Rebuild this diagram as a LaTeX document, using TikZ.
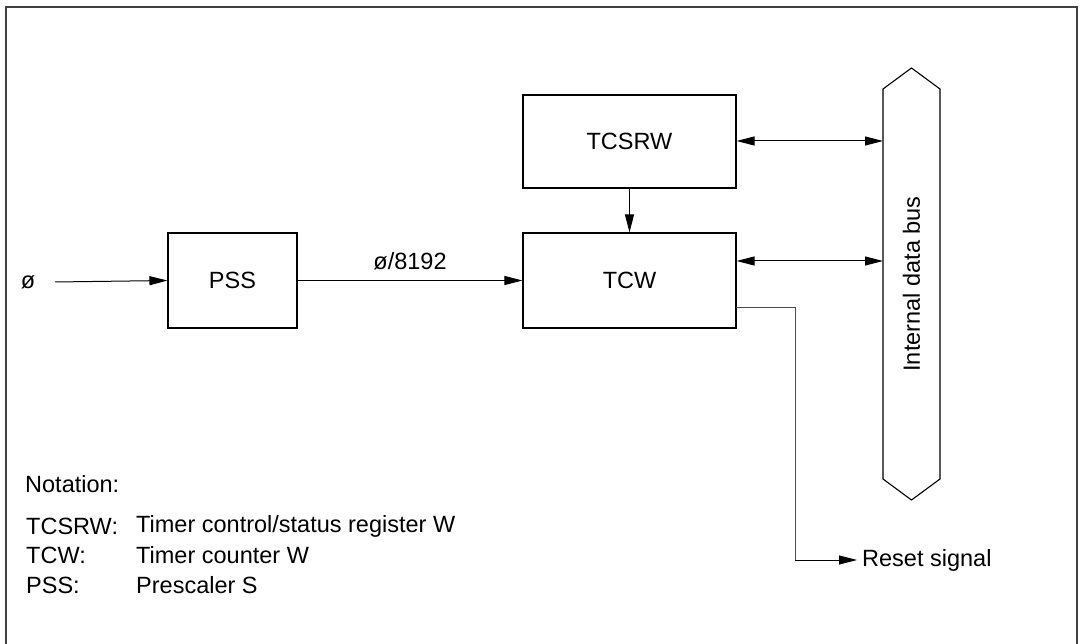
\documentclass[tikz,border=0pt]{standalone}
\usepackage{fontspec}
\setmainfont{Liberation Sans}
\usetikzlibrary{arrows.meta}
\begin{document}
\begin{tikzpicture}[x=1pt,y=-1pt,
  every node/.style={font=\fontsize{23.5}{28}\selectfont, inner sep=0pt},
  blk/.style={draw=black, line width=1.1pt, minimum width=#1},
  con/.style={line width=1pt, -{Triangle[length=18pt,width=9pt]}},
  bicon/.style={line width=1pt, {Triangle[length=18pt,width=9pt]}-{Triangle[length=18pt,width=9pt]}}]
\useasboundingbox (0,0) rectangle (1080,644);
\draw[line width=2pt, draw=black!75] (6,650) -- (6,7) -- (1077,7) -- (1077,650);
% blocks
\node[blk=129pt, minimum height=95pt] (pss) at (232.5,280.5) {PSS};
\node[blk=213pt, minimum height=95pt] (tcw) at (629.5,280.5) {TCW};
\node[blk=213pt, minimum height=93pt] (tcsrw) at (629.5,141.5) {TCSRW};
% bus
\draw[line width=1.1pt] (883,89) -- (911.5,68) -- (940,89) -- (940,479) -- (911.5,500) -- (883,479) -- cycle;
\node[rotate=90] (bus) at (911.5,284) {Internal data bus};
\coordinate (bus1) at (883,141);
\coordinate (bus2) at (883,261);
% input
\node (phi) at (28,282) {ø};
\coordinate (in0) at (55,282);
\draw[con] (in0) -- (pss.west);
\draw[con] (pss.east) -- node[above=10pt] (lab) {ø/8192} (tcw.west);
\draw[con] (tcsrw.south) -- (tcw.north);
\draw[bicon] (tcsrw.east |- bus1) -- (bus1);
\draw[bicon] (tcw.east |- bus2) -- (bus2);
% reset
\coordinate (r0) at (736,307);
\coordinate (r1) at (795,307);
\coordinate (r2) at (795,560);
\coordinate (r3) at (857,560);
\node[anchor=west] (reset) at (862,560) {Reset signal};
\draw[line width=0.8pt, draw=black!70] (r0) -- (r1) -- (r2);
\draw[con] (r2) -- (r3);
% legend
\node[anchor=west] (nota) at (25,484) {Notation:};
\node[anchor=west] (k1) at (26,526) {TCSRW:};
\node[anchor=west] (k2) at (26,555) {TCW:};
\node[anchor=west] (k3) at (26,585) {PSS:};
\node[anchor=west] (v1) at (136,526) {Timer control/status register W};
\node[anchor=west] (v2) at (136,555) {Timer counter W};
\node[anchor=west] (v3) at (136,585) {Prescaler S};
\end{tikzpicture}
\end{document}
